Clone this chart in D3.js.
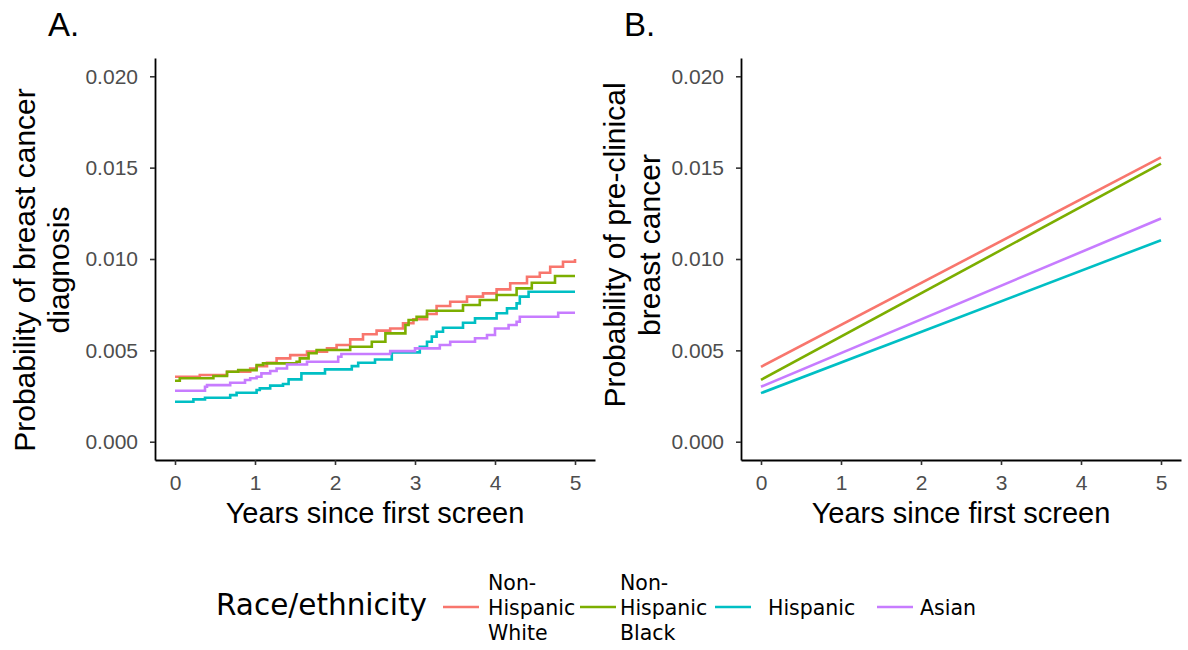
<!DOCTYPE html>
<html><head><meta charset="utf-8">
<script src="https://cdn.jsdelivr.net/npm/d3@7"></script>
<style>body{margin:0;background:#fff}</style>
</head><body><svg id="c" width="1188" height="650"></svg>
<script>
// ---------- data ----------
const groups = ["Non-Hispanic White", "Non-Hispanic Black", "Hispanic", "Asian"];
const legendLines = [["Non-", "Hispanic", "White"], ["Non-", "Hispanic", "Black"], ["Hispanic"], ["Asian"]];
const colors = ["#F8766D", "#7CAE00", "#00BFC4", "#C77CFF"];
const yTicks = [0, 0.005, 0.010, 0.015, 0.020];
const xTicks = [0, 1, 2, 3, 4, 5];

// Panel A: cumulative probability of diagnosis (step functions)
const whiteT = [0, 0.31, 0.65, 0.94, 1.02, 1.15, 1.27, 1.44, 1.65, 1.9, 2.02, 2.19, 2.35, 2.52, 2.69, 2.85, 2.98, 3.15, 3.27, 3.44, 3.65, 3.85, 4.02, 4.19, 4.4, 4.56, 4.69, 4.85, 5.0];
const whiteP = [0.00356, 0.00365, 0.00383, 0.00401, 0.00414, 0.00432, 0.00456, 0.00474, 0.00493, 0.00511, 0.00529, 0.00560, 0.00588, 0.00608, 0.00620, 0.00648, 0.00670, 0.00699, 0.00743, 0.00766, 0.00794, 0.00812, 0.00834, 0.00867, 0.00903, 0.00925, 0.00958, 0.00985, 0.01000];
const blackT = [0, 0.06, 0.48, 0.65, 0.79, 1.02, 1.1, 1.52, 1.56, 1.67, 1.77, 2.19, 2.46, 2.63, 2.88, 2.92, 3.02, 3.15, 3.6, 3.81, 4.02, 4.27, 4.46, 4.75, 5.0];
const blackP = [0.00334, 0.00347, 0.00360, 0.00383, 0.00392, 0.00420, 0.00429, 0.00438, 0.00456, 0.00484, 0.00502, 0.00520, 0.00547, 0.00593, 0.00639, 0.00666, 0.00684, 0.00717, 0.00748, 0.00776, 0.00803, 0.00839, 0.00870, 0.00907, 0.00907];
const hispT = [0, 0.23, 0.375, 0.69, 0.77, 1.02, 1.06, 1.19, 1.35, 1.42, 1.58, 1.875, 2.21, 2.29, 2.5, 2.71, 3.06, 3.15, 3.21, 3.27, 3.35, 3.6, 3.75, 4.02, 4.15, 4.27, 4.31, 4.42, 5.0];
const hispP = [0.00219, 0.00232, 0.00241, 0.00255, 0.00268, 0.00283, 0.00292, 0.00307, 0.00316, 0.00341, 0.00374, 0.00396, 0.00414, 0.00432, 0.00450, 0.00489, 0.00520, 0.00547, 0.00575, 0.00602, 0.00624, 0.00651, 0.00675, 0.00703, 0.00730, 0.00757, 0.00794, 0.00821, 0.00821];
const asianT = [0, 0.375, 0.4, 0.69, 0.875, 0.94, 1.02, 1.08, 1.19, 1.27, 1.4, 1.65, 2.04, 2.08, 2.69, 3.0, 3.31, 3.44, 3.75, 3.9, 4.0, 4.17, 4.27, 4.31, 4.79, 5.0];
const asianP = [0.00279, 0.00301, 0.00310, 0.00323, 0.00338, 0.00347, 0.00356, 0.00374, 0.00387, 0.00401, 0.00423, 0.00438, 0.00465, 0.00480, 0.00496, 0.00511, 0.00529, 0.00547, 0.00566, 0.00584, 0.00620, 0.00639, 0.00657, 0.00684, 0.00706, 0.00706];

// Panel B: modelled probability of pre-clinical cancer (straight lines)
const bT = [0, 5];
const bWhite = [0.00410, 0.01556];
const bBlack = [0.00339, 0.01522];
const bHisp = [0.00266, 0.01103];
const bAsian = [0.00301, 0.01222];

const seriesA = [[whiteT, whiteP], [blackT, blackP], [hispT, hispP], [asianT, asianP]];
const seriesB = [[bT, bWhite], [bT, bBlack], [bT, bHisp], [bT, bAsian]];

// ---------- layout ----------
const svg = d3.select("#c");
svg.append("rect").attr("width", 1188).attr("height", 650).attr("fill", "#fff");
const sans = "'Liberation Sans', Arial, Helvetica, sans-serif";
const legFont = "'DejaVu Sans', Verdana, sans-serif";
const plotTop = 58, plotBottom = 460;

function panel(x0, x1, tag, tagX, yTitle, titleX, titleCY, series, step) {
  const x = d3.scaleLinear().domain([-0.25, 5.25]).range([x0, x1]);
  const y = d3.scaleLinear().domain([-0.001, 0.021]).range([plotBottom, plotTop]);
  const g = svg.append("g");
  const ya = g.append("g").attr("transform", `translate(${x0},0)`)
    .call(d3.axisLeft(y).tickValues(yTicks).tickFormat(d3.format(".3f")).tickSize(5).tickSizeOuter(0).tickPadding(12));
  const xa = g.append("g").attr("transform", `translate(0,${plotBottom})`)
    .call(d3.axisBottom(x).tickValues(xTicks).tickFormat(d3.format("d")).tickSize(5).tickSizeOuter(0).tickPadding(10));
  [ya, xa].forEach(a => {
    a.select(".domain").attr("stroke", "#000").attr("stroke-width", 1.8);
    a.selectAll(".tick line").attr("stroke", "#333").attr("stroke-width", 1.6);
    a.selectAll(".tick text").attr("fill", "#4d4d4d").style("font-family", sans).style("font-size", "21px");
  });
  const line = d3.line().x(d => x(d[0])).y(d => y(d[1]));
  if (step) line.curve(d3.curveStepAfter);
  series.forEach((s, i) => {
    const pts = s[0].map((t, j) => [t, s[1][j]]);
    g.append("path").datum(pts).attr("d", line).attr("fill", "none")
      .attr("stroke", colors[i]).attr("stroke-width", 2.6).attr("stroke-linejoin", "miter");
  });
  g.append("text").attr("x", (x0 + x1) / 2).attr("y", 523).attr("text-anchor", "middle")
    .style("font-family", sans).style("font-size", "29px").attr("fill", "#000").text("Years since first screen");
  yTitle.forEach((t, k) => {
    g.append("text").attr("transform", `translate(${titleX[k]},${titleCY}) rotate(-90)`).attr("text-anchor", "middle")
      .style("font-family", sans).style("font-size", "30px").attr("fill", "#000").text(t);
  });
  g.append("text").attr("x", tagX).attr("y", 36).style("font-family", sans).style("font-size", "33px")
    .attr("fill", "#000").text(tag);
}

panel(155, 595, "A.", 48, ["Probability of breast cancer", "diagnosis"], [35, 69], 270, seriesA, true);
panel(741, 1181, "B.", 624, ["Probability of pre-clinical", "breast cancer"], [625, 660], 245, seriesB, false);

// ---------- legend ----------
const leg = svg.append("g");
leg.append("text").attr("x", 216).attr("y", 615).style("font-family", legFont).style("font-size", "29.5px")
  .attr("fill", "#000").text("Race/ethnicity");
const keyX = [443, 580, 715, 877];
const labX = [488, 620, 768, 920];
groups.forEach((gname, i) => {
  leg.append("line").attr("x1", keyX[i]).attr("x2", keyX[i] + 36).attr("y1", 607).attr("y2", 607)
    .attr("stroke", colors[i]).attr("stroke-width", 2.6);
  const lines = legendLines[i];
  const n = lines.length;
  lines.forEach((t, k) => {
    leg.append("text").attr("x", labX[i]).attr("y", 615 + (k - (n - 1) / 2) * 25)
      .style("font-family", legFont).style("font-size", "20.5px").attr("fill", "#000").text(t);
  });
});
</script></body></html>
